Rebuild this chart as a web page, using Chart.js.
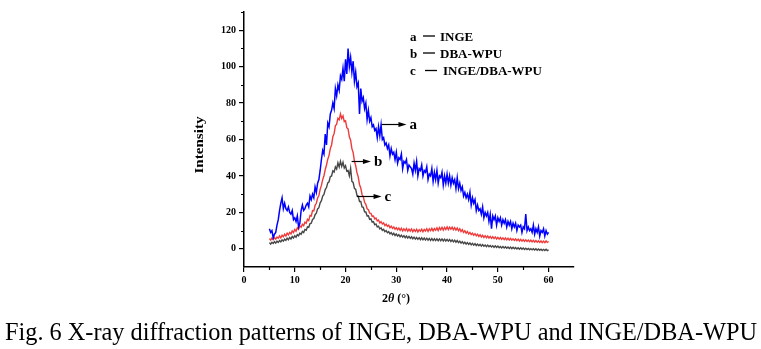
<!DOCTYPE html>
<html>
<head>
<meta charset="utf-8">
<script src="https://cdn.jsdelivr.net/npm/chart.js@4.4.0/dist/chart.umd.min.js"></script>
<style>
  html, body { margin: 0; padding: 0; background: #fff; }
  #wrap { position: relative; width: 761px; height: 349px; }
</style>
</head>
<body>
<div id="wrap"><canvas id="chart" width="761" height="349"></canvas></div>
<script>
// XRD scans, 2θ from 5° to 60° in 0.25° steps
const twoThetaStart = 5;
const twoThetaStep = 0.25;

const inge = [
  11, 9, 10, 6, 8, 9, 13, 16, 21, 25, 28, 22, 25, 22, 21, 23, 20, 19, 21, 16,
  17, 15, 18, 12, 14, 21, 24, 21, 22, 24, 25, 23, 29, 27, 30, 28, 34, 31, 36, 38,
  43, 49, 54, 52, 63, 57, 69, 67, 74, 76, 80, 77, 88, 84, 90, 87, 95, 93, 99, 92,
  104, 96, 110, 100, 105, 97, 103, 92, 97, 89, 91, 74, 88, 81, 83, 77, 80, 71, 76, 70,
  72, 67, 68, 65, 66, 61, 67, 62, 68, 60, 61, 57, 58, 55, 57, 51, 55, 52, 53, 49,
  53, 47, 50, 49, 52, 44, 48, 47, 49, 43, 46, 45, 44, 41, 47, 43, 48, 40, 44, 43,
  46, 40, 43, 42, 45, 38, 41, 40, 44, 37, 42, 38, 43, 36, 40, 39, 42, 35, 40, 36,
  41, 36, 40, 35, 39, 36, 38, 33, 39, 33, 36, 32, 34, 29, 31, 28, 30, 27, 31, 24,
  28, 25, 27, 21, 24, 21, 22, 19, 23, 17, 20, 18, 20, 15, 19, 11, 18, 16, 18, 13,
  17, 15, 17, 13, 16, 14, 16, 12, 15, 13, 15, 11, 14, 12, 14, 10, 13, 12, 13, 9,
  12, 11, 19, 10, 12, 10, 11, 9, 13, 8, 11, 9, 12, 7, 10, 9, 11, 7, 10, 8,
  9
];

const dbaWpu = [
  5.6, 4.8, 5.9, 5.1, 6.2, 5.3, 6.4, 5.8, 7.1, 6.0, 7.4, 6.6, 8.0, 7.0, 8.6, 7.6, 9.0, 8.2, 9.8, 8.9,
  10.6, 9.6, 11.5, 10.7, 12.6, 11.8, 13.5, 12.7, 14.6, 14.0, 16.2, 15.5, 18.3, 18.0, 21.0, 20.8, 23.9, 25.0, 27.9, 29.2,
  32.6, 34.8, 38.0, 40.1, 43.5, 46.0, 49.2, 51.3, 55.0, 57.0, 61.5, 63.2, 67.5, 68.4, 71.6, 70.8, 74.0, 71.5, 73.0, 69.8,
  70.2, 66.5, 65.8, 61.5, 59.6, 55.0, 52.8, 48.2, 45.6, 41.8, 39.5, 35.3, 33.4, 29.8, 28.6, 25.5, 24.4, 22.0, 21.5, 19.6,
  19.5, 17.8, 18.0, 16.4, 16.9, 15.3, 15.8, 14.2, 14.9, 13.6, 14.2, 12.8, 13.5, 12.3, 13.0, 11.6, 12.4, 11.2, 12.0, 10.7,
  11.6, 10.5, 11.4, 10.1, 11.3, 9.8, 11.0, 9.9, 11.1, 9.6, 10.8, 9.7, 10.9, 9.4, 10.6, 9.5, 10.7, 9.2, 10.5, 9.6,
  10.8, 9.4, 10.6, 9.8, 11.0, 9.5, 10.9, 9.9, 11.2, 9.8, 11.1, 10.2, 11.5, 10.0, 11.6, 10.4, 11.8, 10.3, 11.7, 10.6,
  12.0, 10.5, 11.9, 10.8, 11.9, 10.4, 11.6, 10.3, 11.4, 9.9, 11.0, 9.5, 10.5, 9.0, 9.9, 8.6, 9.5, 8.1, 9.0, 7.8,
  8.6, 7.4, 8.3, 7.1, 8.0, 6.8, 7.7, 6.5, 7.4, 6.2, 7.2, 6.1, 7.0, 5.9, 6.8, 5.7, 6.6, 5.6, 6.5, 5.4,
  6.3, 5.3, 6.2, 5.2, 6.0, 5.0, 5.9, 4.9, 5.8, 4.8, 5.7, 4.7, 5.5, 4.6, 5.4, 4.5, 5.3, 4.3, 5.2, 4.2,
  5.0, 4.1, 4.9, 4.0, 4.8, 3.9, 4.7, 3.8, 4.6, 3.7, 4.5, 3.6, 4.4, 3.5, 4.3, 3.4, 4.2, 3.4, 4.3, 3.5,
  4.0
];

const ingeDbaWpu = [
  3.4, 2.6, 3.6, 2.9, 3.9, 3.1, 4.2, 3.5, 4.5, 3.8, 4.9, 4.2, 5.3, 4.6, 5.8, 5.0, 6.2, 5.4, 6.7, 5.9,
  7.2, 6.4, 7.8, 7.1, 8.6, 7.9, 9.5, 8.9, 10.6, 10.2, 12.0, 11.8, 13.8, 14.0, 16.1, 16.6, 18.7, 19.5, 21.9, 22.6,
  25.2, 26.4, 28.9, 29.8, 32.5, 33.6, 36.2, 36.8, 39.6, 40.0, 42.8, 42.1, 45.0, 43.8, 47.2, 44.9, 48.0, 45.2, 47.5, 44.3,
  45.6, 42.6, 43.0, 40.1, 44.2, 37.0, 36.4, 33.2, 32.6, 29.4, 28.9, 26.0, 26.0, 23.0, 22.8, 20.3, 20.2, 18.0, 18.1, 16.2,
  16.4, 14.6, 14.9, 13.2, 13.6, 12.0, 12.4, 10.9, 11.5, 10.1, 10.7, 9.4, 10.0, 8.8, 9.4, 8.2, 8.9, 7.7, 8.5, 7.3,
  8.1, 7.0, 7.8, 6.6, 7.5, 6.4, 7.2, 6.1, 7.0, 5.9, 6.8, 5.7, 6.6, 5.5, 6.4, 5.3, 6.2, 5.2, 6.1, 5.0,
  6.0, 4.9, 5.9, 4.8, 5.8, 4.7, 5.7, 4.6, 5.6, 4.5, 5.5, 4.5, 5.5, 4.4, 5.4, 4.4, 5.4, 4.3, 5.3, 4.3,
  5.2, 4.2, 5.1, 4.0, 4.9, 3.8, 4.7, 3.6, 4.5, 3.4, 4.2, 3.1, 3.9, 2.8, 3.6, 2.6, 3.4, 2.4, 3.2, 2.2,
  3.0, 2.0, 2.8, 1.8, 2.6, 1.7, 2.4, 1.5, 2.3, 1.4, 2.1, 1.2, 2.0, 1.1, 1.8, 1.0, 1.7, 0.8, 1.6, 0.7,
  1.5, 0.6, 1.3, 0.5, 1.2, 0.4, 1.1, 0.3, 1.0, 0.2, 0.9, 0.1, 0.8, 0.0, 0.7, -0.1, 0.6, -0.2, 0.5, -0.3,
  0.4, -0.4, 0.3, -0.4, 0.2, -0.5, 0.1, -0.6, 0.0, -0.7, 0.0, -0.8, -0.1, -0.8, -0.2, -0.9, -0.3, -1.0, -0.3, -1.0,
  -0.6
];

const xTicks = [0, 10, 20, 30, 40, 50, 60];
const xMinorTicks = [5, 15, 25, 35, 45, 55];
const yTicks = [0, 20, 40, 60, 80, 100, 120];
const yMinorTicks = [10, 30, 50, 70, 90, 110, 130];

const seriesKeys = ['a', 'b', 'c'];
const seriesNames = ['INGE', 'DBA-WPU', 'INGE/DBA-WPU'];
const seriesColors = ['#0000ff', '#ee3b3b', '#474747'];
const seriesWidths = [1.5, 1.4, 1.4];

// pointer arrows: start on the curve (2θ, intensity), end at 2θ
const arrowFrom = [[27.1, 68.3], [21.2, 48.2], [22.2, 28.9]];
const arrowToX = [32.0, 25.0, 27.1];

const serif = '"Liberation Serif", "Times New Roman", serif';

function toPoints(values) {
  return values.map((v, i) => ({ x: twoThetaStart + i * twoThetaStep, y: v }));
}

// draw text squeezed/stretched to a given width
function fitText(ctx, text, x, y, width) {
  const w = ctx.measureText(text).width;
  ctx.save();
  ctx.translate(x, y);
  ctx.scale(width / w, 1);
  ctx.fillText(text, 0, 0);
  ctx.restore();
}

const decorations = {
  id: 'decorations',
  afterDraw(chart) {
    const ctx = chart.ctx;
    const xs = chart.scales.x;
    const ys = chart.scales.y;
    const area = chart.chartArea;

    ctx.save();
    ctx.strokeStyle = '#000';
    ctx.fillStyle = '#000';
    ctx.lineWidth = 1.2;

    // minor ticks
    ctx.beginPath();
    xMinorTicks.forEach(v => {
      const px = Math.round(xs.getPixelForValue(v)) + 0.5;
      ctx.moveTo(px, area.bottom);
      ctx.lineTo(px, area.bottom + 3);
    });
    yMinorTicks.forEach(v => {
      const py = Math.round(ys.getPixelForValue(v)) + 0.5;
      ctx.moveTo(area.left, py);
      ctx.lineTo(area.left - 3, py);
    });
    ctx.stroke();

    // x axis title 2θ (°)
    ctx.textBaseline = 'alphabetic';
    ctx.textAlign = 'left';
    const parts = [['2', 'bold'], ['θ', 'italic bold'], [' (°)', 'bold']];
    let total = 0;
    parts.forEach(p => { ctx.font = p[1] + ' 12px ' + serif; total += ctx.measureText(p[0]).width; });
    let tx = 396 - total / 2;
    parts.forEach(p => {
      ctx.font = p[1] + ' 12px ' + serif;
      ctx.fillText(p[0], tx, 302);
      tx += ctx.measureText(p[0]).width;
    });

    // y axis title
    ctx.save();
    ctx.translate(203, 145);
    ctx.rotate(-Math.PI / 2);
    ctx.font = 'bold 13px ' + serif;
    ctx.textAlign = 'left';
    const iw = 57;
    fitText(ctx, 'Intensity', -iw / 2, 0, iw);
    ctx.restore();

    // key
    ctx.font = 'bold 13px ' + serif;
    const keyY = [40.5, 57.5, 75];
    const keyTextX = [440, 440, 443];
    seriesKeys.forEach((k, i) => {
      ctx.fillText(k, 410, keyY[i]);
      ctx.beginPath();
      ctx.lineWidth = 1.3;
      const dx = i === 2 ? 2 : 0;
      ctx.moveTo(423 + dx, keyY[i] - 4.5);
      ctx.lineTo(435 + dx, keyY[i] - 4.5);
      ctx.stroke();
      ctx.fillText(seriesNames[i], keyTextX[i], keyY[i]);
    });

    // arrows with letters
    ctx.lineWidth = 1.2;
    seriesKeys.forEach((k, i) => {
      const x1 = xs.getPixelForValue(arrowFrom[i][0]);
      const y1 = Math.round(ys.getPixelForValue(arrowFrom[i][1])) + 0.5;
      const x2 = xs.getPixelForValue(arrowToX[i]);
      ctx.beginPath();
      ctx.moveTo(x1, y1);
      ctx.lineTo(x2 - 6, y1);
      ctx.stroke();
      ctx.beginPath();
      ctx.moveTo(x2, y1);
      ctx.lineTo(x2 - 8, y1 - 2.5);
      ctx.lineTo(x2 - 8, y1 + 2.5);
      ctx.closePath();
      ctx.fill();
      ctx.font = 'bold 15px ' + serif;
      ctx.fillText(k, x2 + 3, y1 + 4.5);
    });

    // figure caption
    ctx.font = '26px ' + serif;
    fitText(ctx, 'Fig. 6 X-ray diffraction patterns of INGE, DBA-WPU and INGE/DBA-WPU', 5, 340, 752);

    ctx.restore();
  }
};

const tickFont = { family: serif, size: 10, weight: 'bold' };

const datasets = [inge, dbaWpu, ingeDbaWpu].map((vals, i) => ({
  label: seriesNames[i],
  data: toPoints(vals),
  borderColor: seriesColors[i],
  borderWidth: seriesWidths[i],
  pointRadius: 0,
  tension: 0,
  fill: false
}));

const ctx = document.getElementById('chart').getContext('2d');
new Chart(ctx, {
  type: 'line',
  data: { datasets: datasets },
  options: {
    responsive: false,
    animation: false,
    layout: { padding: { left: 200, right: 187, top: 12, bottom: 0 } },
    plugins: { legend: { display: false }, tooltip: { enabled: false } },
    scales: {
      x: {
        type: 'linear',
        min: 0,
        max: 65,
        afterBuildTicks: s => { s.ticks = xTicks.map(v => ({ value: v })); },
        afterFit: s => { s.height = 82; },
        grid: { display: true, drawOnChartArea: false, drawTicks: true, tickLength: 5, color: '#000', lineWidth: 1.2 },
        border: { display: true, color: '#000', width: 1.5 },
        ticks: { color: '#000', font: tickFont, padding: 2, maxRotation: 0, autoSkip: false }
      },
      y: {
        type: 'linear',
        min: -10,
        max: 130,
        afterBuildTicks: s => { s.ticks = yTicks.map(v => ({ value: v })); },
        afterFit: s => { s.width = 44; },
        grid: { display: true, drawOnChartArea: false, drawTicks: true, tickLength: 5, color: '#000', lineWidth: 1.2 },
        border: { display: true, color: '#000', width: 1.5 },
        ticks: { color: '#000', font: tickFont, padding: 3, autoSkip: false }
      }
    }
  },
  plugins: [decorations]
});
</script>
</body>
</html>
